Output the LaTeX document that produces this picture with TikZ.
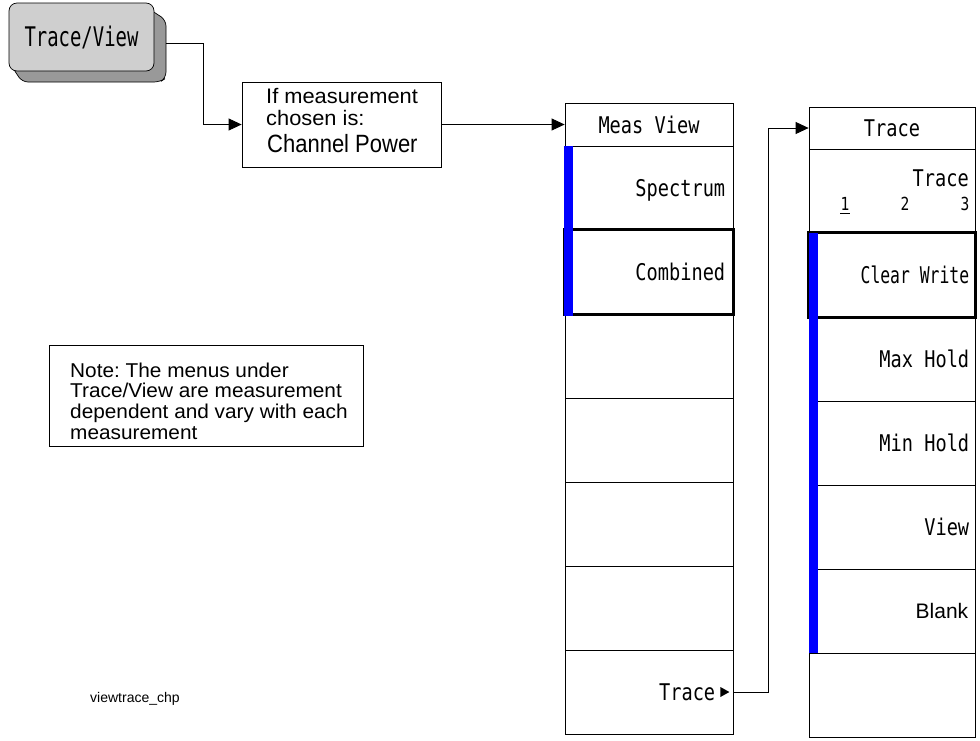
\documentclass[tikz,border=0pt]{standalone}
\usepackage{fontspec}
\setmainfont{Liberation Sans}
\newfontfamily\menufont[FakeStretch=0.81]{DejaVu Sans Mono}
\newfontfamily\keyfont[FakeStretch=0.7]{DejaVu Sans Mono}
\newfontfamily\narrowfont[FakeStretch=0.88]{Liberation Sans}
\newfontfamily\notefont[FakeStretch=1.04]{Liberation Sans}
\usetikzlibrary{arrows.meta}
\frenchspacing

\definecolor{keyface}{gray}{0.81}
\definecolor{keyside}{gray}{0.6}
\definecolor{selblue}{RGB}{0,0,255}

\tikzset{
  conn/.style={line width=0.8pt, -{Triangle[length=13pt,width=12pt]}},
  menubox/.style={draw, line width=0.8pt, minimum height=84pt, inner sep=0pt},
  menuhead/.style={draw, line width=0.8pt, inner sep=0pt, font=\menufont\fontsize{23}{23}\selectfont},
  menutext/.style={inner sep=0pt, text height=17pt, text depth=0pt, font=\menufont\fontsize{23}{23}\selectfont},
  selbox/.style={line width=2.5pt},
  notetext/.style={inner sep=0pt, font=\notefont\fontsize{20}{20}\selectfont}
}

\begin{document}
\begin{tikzpicture}[x=1pt, y=-1pt]

\useasboundingbox (0,0) rectangle (980,740);

% the hard key
\filldraw[fill=keyside, draw=black, line width=0.7pt, rounded corners=6pt]
  (140,3) -- (166,20) -- (166,78) -- (160,82) -- (22,82) -- (9,62) -- cycle;
\node[draw, fill=keyface, line width=0.7pt, rounded corners=8pt,
  minimum width=145pt, minimum height=68pt, inner sep=0pt,
  font=\keyfont\fontsize{27}{27}\selectfont] (key) at (81.5,37) {Trace/View};
\coordinate (keyout) at (166,43);

% condition box
\node[draw, line width=0.8pt, minimum width=199pt, minimum height=85pt] (cond) at (341.5,124.5) {};
\node[notetext, anchor=base west, font=\notefont\fontsize{21}{21}\selectfont] (cond1) at (266,103) {If measurement};
\node[notetext, anchor=base west, font=\notefont\fontsize{21}{21}\selectfont] (cond2) at (266,125) {chosen is:};
\node[notetext, anchor=base west, font=\narrowfont\fontsize{25}{25}\selectfont] (cond3) at (267,152) {Channel Power};

% note
\node[draw, line width=0.8pt, minimum width=314pt, minimum height=101pt] (note) at (206,395.5) {};
\foreach \ln [count=\i] in {Note: The menus under, Trace/View are measurement, dependent and vary with each, measurement}
  \node[notetext, anchor=base west] (note\i) at (70,{377+20.7*(\i-1)}) {\ln};

\node[notetext, anchor=base west, font=\fontsize{14}{14}\selectfont] (fig) at (90,702) {viewtrace\_chp};

% Meas View menu
\node[menuhead, minimum width=168pt, minimum height=43pt] (mvhead) at (649,124.5) {Meas View};
\foreach \lbl [count=\i] in {Spectrum,Combined,{},{},{},{},{Trace\kern10pt}}
{
  \node[menubox, minimum width=168pt] (mv\i) at (649,{146+84*(\i-0.5)}) {};
  \node[menutext, anchor=east] (mvt\i) at ([xshift=-8pt]mv\i.east) {\lbl};
}
\fill ([xshift=-5pt]mvt7.east) ++(0,-5) -- ++(0,10) -- ++(9,-5) -- cycle;
\draw[selbox] (mv2.north west) rectangle (mv2.south east);
\fill[selblue] (564,146) rectangle (573,316);

% Trace menu
\node[menuhead, minimum width=166pt, minimum height=42pt] (trhead) at (892,128) {Trace};
\foreach \lbl [count=\i] in {{},{\scalebox{0.88}[1]{Clear Write}},Max Hold,Min Hold,View,{},{}}
{
  \node[menubox, minimum width=166pt] (tr\i) at (892,{149+84*(\i-0.5)}) {};
  \node[menutext, anchor=east] (trt\i) at ([xshift=-6pt]tr\i.east) {\lbl};
}
\node[inner sep=0pt, anchor=base east, font=\menufont\fontsize{23}{23}\selectfont] (trname) at (969,186) {Trace};
\foreach \n/\xx in {1/845,2/905,3/965}
  \node[inner sep=0pt, anchor=base, font=\menufont\fontsize{18}{18}\selectfont] (tn\n) at (\xx,210) {\n};
\draw[line width=0.7pt] ([yshift=-3pt]tn1.base west) -- ([yshift=-3pt]tn1.base east);
\node[inner sep=0pt, anchor=east, font=\fontsize{21}{21}\selectfont] (blank) at ([xshift=-7pt]tr6.east) {Blank};
\draw[selbox] (tr2.north west) rectangle (tr2.south east);
\fill[selblue] (809,233) rectangle (818,653);

% connectors
\draw[conn] (keyout) -- ++(37,0) |- (cond.west);
\draw[conn] (cond) -- (mvhead);
\draw[conn] (mv7.east) -- ++(35,0) |- (trhead.west);

\end{tikzpicture}
\end{document}
